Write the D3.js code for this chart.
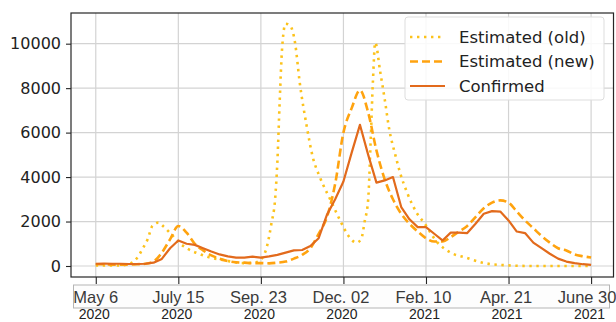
<!DOCTYPE html>
<html>
<head>
<meta charset="utf-8">
<script src="https://cdn.jsdelivr.net/npm/d3@7"></script>
<style>
  html, body { margin: 0; padding: 0; background: #fff; }
  svg { display: block; }
</style>
</head>
<body>
<svg id="chart" width="616" height="322"></svg>
<script>
// Weekly dates shared by the confirmed counts and the new estimate
const weekDates = [
  "2020-05-06","2020-05-13","2020-05-20","2020-05-27","2020-06-03","2020-06-10","2020-06-17","2020-06-24",
  "2020-07-01","2020-07-08","2020-07-15","2020-07-22","2020-07-29","2020-08-05","2020-08-12","2020-08-19",
  "2020-08-26","2020-09-02","2020-09-09","2020-09-16","2020-09-23","2020-09-30","2020-10-07","2020-10-14",
  "2020-10-21","2020-10-28","2020-11-04","2020-11-11","2020-11-18","2020-11-25","2020-12-02","2020-12-09",
  "2020-12-16","2020-12-23","2020-12-30","2021-01-06","2021-01-13","2021-01-20","2021-01-27","2021-02-03",
  "2021-02-10","2021-02-17","2021-02-24","2021-03-03","2021-03-10","2021-03-17","2021-03-24","2021-03-31",
  "2021-04-07","2021-04-14","2021-04-21","2021-04-28","2021-05-05","2021-05-12","2021-05-19","2021-05-26",
  "2021-06-02","2021-06-09","2021-06-16","2021-06-23","2021-06-30"
];

const confirmed = [
  100, 110, 100, 100, 90, 90, 100, 150,
  320, 800, 1150, 1000, 950, 800, 650, 520,
  430, 380, 380, 420, 380, 430, 500, 600,
  700, 720, 900, 1250, 2300, 3000, 3800, 5100,
  6350, 5000, 3750, 3850, 4000, 2650, 2100, 1750,
  1750, 1450, 1150, 1500, 1500, 1480, 1900, 2350,
  2470, 2450, 2050, 1550, 1480, 1050, 800, 550,
  330, 200, 130, 80, 50
];

const estimatedNew = [
  80, 80, 60, 60, 60, 80, 100, 200,
  600, 1200, 1800, 1500, 1000, 700, 480, 330,
  220, 170, 150, 130, 130, 120, 150, 200,
  330, 500, 800, 1450, 2200, 3700, 6000, 7100,
  7900, 6900, 5200, 3900, 3000, 2350, 1900, 1550,
  1250, 1100, 1100, 1300, 1550, 1800, 2200, 2600,
  2850, 2950, 2850, 2450, 2050, 1700, 1350, 1050,
  800, 700, 520, 440, 380
];

// The old estimate is sampled on its own dates
const oldDates = [
  "2020-05-06","2020-05-26","2020-06-04","2020-06-10","2020-06-15","2020-06-19","2020-06-23","2020-06-28",
  "2020-07-02","2020-07-08","2020-07-16","2020-07-22","2020-08-02","2020-08-11","2020-08-22","2020-09-08",
  "2020-09-19","2020-09-24","2020-09-28","2020-10-02","2020-10-05","2020-10-07","2020-10-09","2020-10-11",
  "2020-10-14","2020-10-18","2020-10-22","2020-10-26","2020-11-01","2020-11-06","2020-11-12","2020-11-21",
  "2020-11-29","2020-12-07","2020-12-13","2020-12-17","2020-12-20","2020-12-23","2020-12-25","2020-12-27",
  "2020-12-29","2021-01-02","2021-01-06","2021-01-10","2021-01-15","2021-01-19","2021-01-25","2021-02-02",
  "2021-02-09","2021-02-19","2021-03-02","2021-03-17","2021-03-30","2021-04-13","2021-05-12","2021-06-30"
];

const estimatedOld = [
  30, 20, 100, 360, 800, 1200, 1800, 1950,
  1800, 1480, 1030, 800, 540, 380, 270, 130,
  170, 350, 850, 1930, 2970, 4700, 7470, 9800,
  10900, 10800, 10030, 8230, 6250, 4900, 4000, 2970,
  2070, 1300, 1050, 1200, 2000, 3000, 5500, 8300,
  10050, 8800, 7500, 6100, 5000, 4200, 3300, 2400,
  1900, 1100, 630, 360, 150, 50, 0, 0
];

const yTicks = [0, 2000, 4000, 6000, 8000, 10000];
const xTickDates = ["2020-05-06","2020-07-15","2020-09-23","2020-12-02","2021-02-10","2021-04-21","2021-06-30"];
const xTickLabels = ["May 6", "July 15", "Sep. 23", "Dec. 02", "Feb. 10", "Apr. 21", "June 30"];
const xTickYears = ["2020", "2020", "2020", "2020", "2021", "2021", "2021"];
const seriesNames = ["Estimated (old)", "Estimated (new)", "Confirmed"];

const parse = d3.utcParse("%Y-%m-%d");
const svg = d3.select("#chart");

const plot = { left: 71, top: 13, right: 613.5, bottom: 277 };

const x = d3.scaleUtc()
  .domain([parse("2020-04-15"), parse("2021-07-19")])
  .range([plot.left, plot.right]);
const y = d3.scaleLinear()
  .domain([-495, 11380])
  .range([plot.bottom, plot.top]);

const styles = [
  { color: "#fcc21b", width: 2.6, dash: "2.4,4.6", curve: d3.curveMonotoneX },
  { color: "#ffa30f", width: 2.6, dash: "8,4", curve: d3.curveMonotoneX },
  { color: "#e26a1c", width: 2.2, dash: null, curve: d3.curveLinear }
];

const series = [
  oldDates.map((d, i) => ({ date: parse(d), value: estimatedOld[i] })),
  weekDates.map((d, i) => ({ date: parse(d), value: estimatedNew[i] })),
  weekDates.map((d, i) => ({ date: parse(d), value: confirmed[i] }))
];

svg.append("defs").append("clipPath").attr("id", "plot-clip")
  .append("rect")
  .attr("x", plot.left).attr("y", plot.top)
  .attr("width", plot.right - plot.left).attr("height", plot.bottom - plot.top);

// Grid
const grid = svg.append("g").attr("stroke", "#d3d3d3").attr("stroke-width", 1.2);
grid.selectAll("line.v").data(xTickDates).join("line")
  .attr("class", "v")
  .attr("x1", d => x(parse(d))).attr("x2", d => x(parse(d)))
  .attr("y1", plot.top).attr("y2", plot.bottom);
grid.selectAll("line.h").data(yTicks).join("line")
  .attr("class", "h")
  .attr("x1", plot.left).attr("x2", plot.right)
  .attr("y1", d => y(d)).attr("y2", d => y(d));

// Series lines
const lines = svg.append("g").attr("clip-path", "url(#plot-clip)");
series.forEach((pts, i) => {
  const s = styles[i];
  const line = d3.line().x(d => x(d.date)).y(d => y(d.value)).curve(s.curve);
  lines.append("path")
    .datum(pts)
    .attr("d", line)
    .attr("fill", "none")
    .attr("stroke", s.color)
    .attr("stroke-width", s.width)
    .attr("stroke-linejoin", "round")
    .attr("stroke-dasharray", s.dash);
});

// Frame
svg.append("rect")
  .attr("x", plot.left).attr("y", plot.top)
  .attr("width", plot.right - plot.left).attr("height", plot.bottom - plot.top)
  .attr("fill", "none").attr("stroke", "#262626").attr("stroke-width", 1.2);

// Y axis
const yAxis = svg.append("g")
  .attr("transform", `translate(${plot.left},0)`)
  .call(d3.axisLeft(y).tickValues(yTicks).tickSize(5).tickPadding(5).tickFormat(d3.format("d")));
yAxis.select(".domain").remove();
yAxis.selectAll(".tick line").attr("stroke", "#262626").attr("stroke-width", 1.1);
yAxis.selectAll(".tick text")
  .attr("fill", "#222")
  .style("font-family", "'DejaVu Sans', sans-serif")
  .style("font-size", "16px");

// X axis ticks
const xAxis = svg.append("g")
  .attr("transform", `translate(0,${plot.bottom})`)
  .call(d3.axisBottom(x).tickValues(xTickDates.map(parse)).tickSize(7).tickFormat(""));
xAxis.select(".domain").remove();
xAxis.selectAll(".tick line").attr("stroke", "#262626").attr("stroke-width", 1.1);

// Boxed date labels
svg.append("rect")
  .attr("x", 73.5).attr("y", 285)
  .attr("width", 536).attr("height", 23)
  .attr("fill", "#fdfdfd").attr("stroke", "#b5b5b5").attr("stroke-width", 1);

svg.append("g").selectAll("text").data(xTickDates).join("text")
  .attr("x", (d, i) => x(parse(d)) - (i < 2 ? 0 : (i === 6 ? 4 : 2.5)))
  .attr("y", 302.5)
  .attr("text-anchor", "middle")
  .attr("fill", "#3a3a3a")
  .style("font-family", "'Liberation Sans Narrow', 'Arial Narrow', sans-serif")
  .style("font-size", "16.5px")
  .text((d, i) => xTickLabels[i]);

svg.append("g").selectAll("text").data(xTickDates).join("text")
  .attr("x", (d, i) => x(parse(d)) - 1.5)
  .attr("y", 319)
  .attr("text-anchor", "middle")
  .attr("fill", "#222")
  .style("font-family", "'Liberation Sans', Arial, sans-serif")
  .style("font-size", "14px")
  .text((d, i) => xTickYears[i]);

// Legend
const legend = svg.append("g");
legend.append("rect")
  .attr("x", 405).attr("y", 17)
  .attr("width", 199).attr("height", 83)
  .attr("rx", 3)
  .attr("fill", "#fff").attr("fill-opacity", 0.85)
  .attr("stroke", "#dddddd").attr("stroke-width", 1);
const rows = [37, 61.5, 86];
seriesNames.forEach((name, i) => {
  const s = styles[i];
  legend.append("line")
    .attr("x1", 410).attr("x2", 445)
    .attr("y1", rows[i]).attr("y2", rows[i])
    .attr("stroke", s.color)
    .attr("stroke-width", s.width)
    .attr("stroke-dasharray", s.dash);
  legend.append("text")
    .attr("x", 459).attr("y", rows[i])
    .attr("dy", "0.36em")
    .attr("fill", "#222")
    .style("font-family", "'DejaVu Sans', sans-serif")
    .style("font-size", "16.5px")
    .text(name);
});
</script>
</body>
</html>
